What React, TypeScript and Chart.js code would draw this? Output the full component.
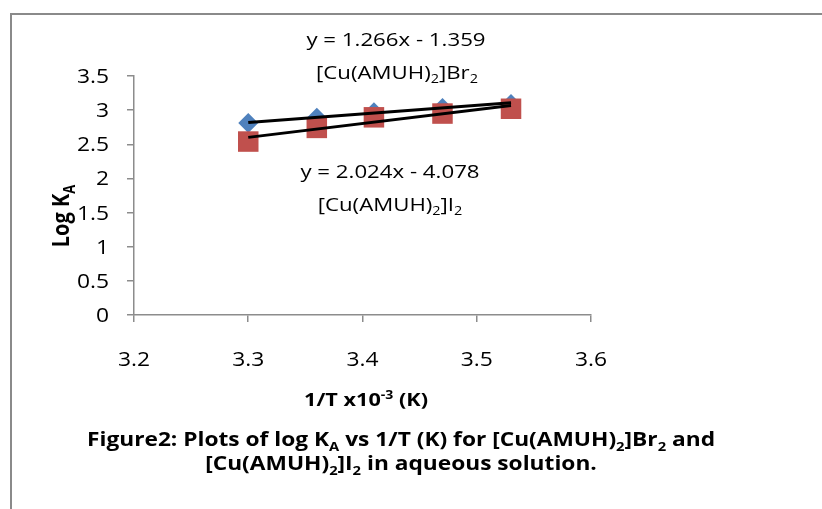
import React, { useEffect, useRef } from 'react';
import { Chart, registerables } from 'chart.js';

Chart.register(...registerables);

// ---- data ----
const xValues = [3.3, 3.36, 3.41, 3.47, 3.53];
const brValues = [2.81, 2.89, 2.97, 3.03, 3.09];
const iValues = [2.54, 2.74, 2.895, 2.95, 3.02];
const brSlope = 1.266;
const brIntercept = -1.359;
const iSlope = 2.024;
const iIntercept = -4.078;
const xTickLabels = ['3.2', '3.3', '3.4', '3.5', '3.6'];
const yTickLabels = ['0', '0.5', '1', '1.5', '2', '2.5', '3', '3.5'];
const brEquation = 'y = 1.266x - 1.359';
const iEquation = 'y = 2.024x - 4.078';

type Seg = { t: string; k?: 'sub' | 'sup' };

const brLabel: Seg[] = [{ t: '[Cu(AMUH)' }, { t: '2', k: 'sub' }, { t: ']Br' }, { t: '2', k: 'sub' }];
const iLabel: Seg[] = [{ t: '[Cu(AMUH)' }, { t: '2', k: 'sub' }, { t: ']I' }, { t: '2', k: 'sub' }];
const xTitle: Seg[] = [{ t: '1/T x10' }, { t: '-3', k: 'sup' }, { t: ' (K)' }];
const yTitle: Seg[] = [{ t: 'Log K' }, { t: 'A', k: 'sub' }];
const captionLine1: Seg[] = [
  { t: 'Figure2: Plots of log K' }, { t: 'A', k: 'sub' },
  { t: ' vs 1/T (K) for [Cu(AMUH)' }, { t: '2', k: 'sub' }, { t: ']Br' }, { t: '2', k: 'sub' }, { t: ' and' },
];
const captionLine2: Seg[] = [
  { t: '[Cu(AMUH)' }, { t: '2', k: 'sub' }, { t: ']I' }, { t: '2', k: 'sub' }, { t: ' in aqueous solution.' },
];

const FONT = '"Open Sans", sans-serif';

function fontFor(s: Seg, size: number, bold: boolean) {
  return `${bold ? 'bold ' : ''}${s.k ? size * 0.65 : size}px ${FONT}`;
}

function measureRich(ctx: CanvasRenderingContext2D, segs: Seg[], size: number, bold: boolean) {
  let total = 0;
  for (const s of segs) {
    ctx.font = fontFor(s, size, bold);
    total += ctx.measureText(s.t).width;
  }
  return total;
}

function drawRich(
  ctx: CanvasRenderingContext2D,
  segs: Seg[],
  x: number,
  y: number,
  size: number,
  opts: { bold?: boolean; sx?: number; sy?: number; rot?: number; align?: 'center' | 'right' } = {}
) {
  const bold = !!opts.bold;
  ctx.save();
  ctx.translate(x, y);
  if (opts.rot) ctx.rotate(opts.rot);
  ctx.scale(opts.sx ?? 1, opts.sy ?? 1);
  const total = measureRich(ctx, segs, size, bold);
  let cx = opts.align === 'right' ? -total : -total / 2;
  const base = size * 0.357;
  ctx.fillStyle = '#000';
  ctx.textAlign = 'left';
  ctx.textBaseline = 'alphabetic';
  for (const s of segs) {
    ctx.font = fontFor(s, size, bold);
    const dy = s.k === 'sub' ? size * 0.24 : s.k === 'sup' ? -size * 0.36 : 0;
    ctx.fillText(s.t, cx, base + dy);
    cx += ctx.measureText(s.t).width;
  }
  ctx.restore();
}

const decorPlugin = {
  id: 'decor',
  afterDraw(chart: any) {
    const ctx: CanvasRenderingContext2D = chart.ctx;
    const xs = chart.scales.x;
    const ys = chart.scales.y;
    const SX = 1.17;

    // frame
    ctx.save();
    ctx.strokeStyle = '#8a8a8a';
    ctx.lineWidth = 2;
    ctx.beginPath();
    ctx.moveTo(11, 509);
    ctx.lineTo(11, 14);
    ctx.lineTo(822, 14);
    ctx.stroke();
    ctx.restore();

    // tick labels
    for (const lab of yTickLabels) {
      const py = ys.getPixelForValue(parseFloat(lab));
      drawRich(ctx, [{ t: lab }], 109, py, 19.5, { sx: SX, align: 'right' });
    }
    for (const lab of xTickLabels) {
      const px = xs.getPixelForValue(parseFloat(lab));
      drawRich(ctx, [{ t: lab }], px, 359, 19.5, { sx: SX });
    }

    // axis titles
    drawRich(ctx, xTitle, 366, 399, 18.5, { bold: true, sx: SX });
    drawRich(ctx, yTitle, 61, 216, 20, { bold: true, sy: SX, rot: -Math.PI / 2 });

    // trendline annotations
    drawRich(ctx, [{ t: brEquation }], 396, 39, 19, { sx: SX });
    drawRich(ctx, brLabel, 397, 72, 19, { sx: SX });
    drawRich(ctx, [{ t: iEquation }], 390, 171, 19, { sx: SX });
    drawRich(ctx, iLabel, 390, 204, 19, { sx: SX });

    // caption
    const capSize = 20;
    const w1 = measureRich(ctx, captionLine1, capSize, true);
    const capSX = 628 / w1;
    drawRich(ctx, captionLine1, 401, 439, capSize, { bold: true, sx: capSX });
    drawRich(ctx, captionLine2, 401, 463, capSize, { bold: true, sx: capSX });
  },
};

export default function App() {
  const ref = useRef<HTMLCanvasElement>(null);

  useEffect(() => {
    const canvas = ref.current;
    if (!canvas) return;
    const trend = (m: number, b: number) => [
      { x: xValues[0], y: m * xValues[0] + b },
      { x: xValues[xValues.length - 1], y: m * xValues[xValues.length - 1] + b },
    ];
    const axisColor = '#8c8c8c';
    const chart = new Chart(canvas, {
      type: 'scatter',
      data: {
        datasets: [
          {
            label: 'Br2 trend',
            data: trend(brSlope, brIntercept),
            showLine: true,
            borderColor: '#000',
            borderWidth: 3,
            pointRadius: 0,
            order: 0,
          },
          {
            label: 'I2 trend',
            data: trend(iSlope, iIntercept),
            showLine: true,
            borderColor: '#000',
            borderWidth: 3,
            pointRadius: 0,
            order: 0,
          },
          {
            label: '[Cu(AMUH)2]I2',
            data: xValues.map((x, i) => ({ x, y: iValues[i] })),
            pointStyle: 'rect',
            pointRadius: 14.5,
            backgroundColor: '#c0504d',
            borderColor: '#c0504d',
            pointBorderWidth: 0,
            order: 1,
          },
          {
            label: '[Cu(AMUH)2]Br2',
            data: xValues.map((x, i) => ({ x, y: brValues[i] })),
            pointStyle: 'rectRot',
            pointRadius: 10,
            backgroundColor: '#4f81bd',
            borderColor: '#4f81bd',
            pointBorderWidth: 0,
            order: 2,
          },
        ],
      },
      options: {
        responsive: false,
        devicePixelRatio: 1,
        animation: false,
        layout: { padding: { left: 0, top: 76, right: 822 - 591, bottom: 0 } },
        plugins: { legend: { display: false }, tooltip: { enabled: false } },
        scales: {
          x: {
            type: 'linear',
            min: 3.2,
            max: 3.6,
            ticks: { stepSize: 0.1, display: false },
            grid: { drawOnChartArea: false, drawTicks: true, tickLength: 7, color: axisColor, lineWidth: 1.5 },
            border: { display: true, color: axisColor, width: 1.5 },
            afterFit: (s: any) => { s.height = 509 - 315; },
          },
          y: {
            type: 'linear',
            min: 0,
            max: 3.5,
            ticks: { stepSize: 0.5, display: false },
            grid: { drawOnChartArea: false, drawTicks: true, tickLength: 7, color: axisColor, lineWidth: 1.5 },
            border: { display: true, color: axisColor, width: 1.5 },
            afterFit: (s: any) => { s.width = 134; },
          },
        },
      },
      plugins: [decorPlugin],
    } as any);
    return () => chart.destroy();
  }, []);

  return (
    <div style={{ position: 'absolute', left: 0, top: 0, width: 822, height: 509, background: '#fff' }}>
      <canvas ref={ref} width={822} height={509} style={{ display: 'block' }} />
    </div>
  );
}
